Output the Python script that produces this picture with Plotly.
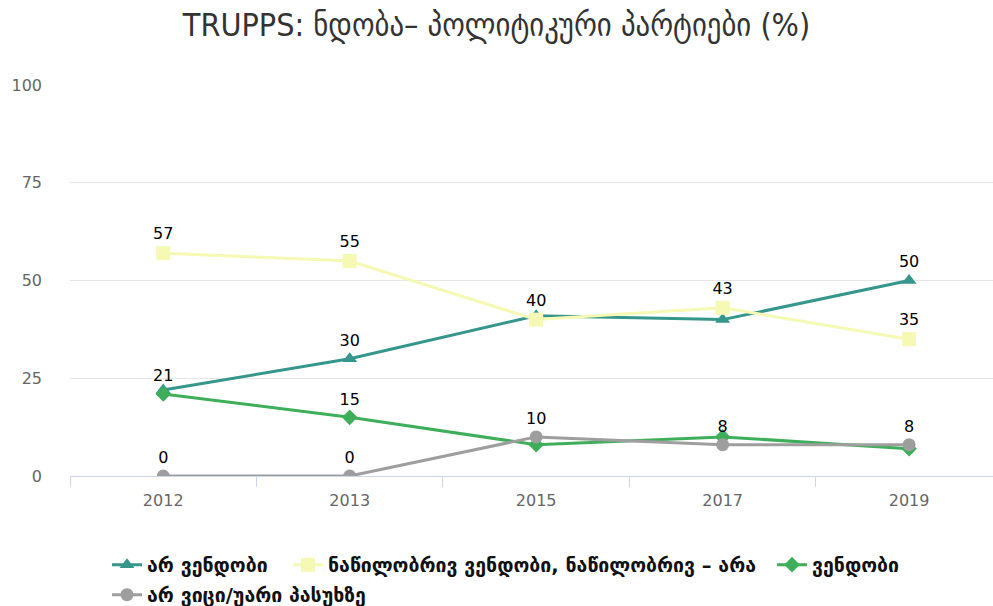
import plotly.graph_objects as go

years = ["2012", "2013", "2015", "2017", "2019"]
names = ["არ ვენდობი", "ნაწილობრივ ვენდობი, ნაწილობრივ – არა", "ვენდობი", "არ ვიცი/უარი პასუხზე"]
no_trust = [22, 30, 41, 40, 50]
partly = [57, 55, 40, 43, 35]
trust = [21, 15, 8, 10, 7]
dont_know = [0, 0, 10, 8, 8]
# which data labels are visible (others hidden because of overlap)
show_no_trust = [False, True, False, False, True]
show_partly = [True, True, True, True, True]
show_trust = [True, True, False, False, False]
show_dont_know = [True, True, True, True, True]

colors = ["#35968c", "#f5f9b3", "#3fae5a", "#9e9e9e"]
symbols = ["triangle-up", "square", "diamond", "circle"]
sizes = [13, 14, 12, 13]
series = [no_trust, partly, trust, dont_know]
shows = [show_no_trust, show_partly, show_trust, show_dont_know]
legends = ["legend", "legend2", "legend3", "legend4"]

fig = go.Figure()
for i in range(4):
    fig.add_trace(go.Scatter(
        x=years, y=series[i], name=names[i], mode="lines+markers+text",
        line=dict(color=colors[i], width=3),
        marker=dict(symbol=symbols[i], size=sizes[i], color=colors[i]),
        text=[str(v) if s else "" for v, s in zip(series[i], shows[i])],
        textposition="top center",
        textfont=dict(family="DejaVu Sans", size=16, color="#000"),
        legend=legends[i],
    ))

W, Hh = 993.0, 606.0
def cy(p):
    return 1 - p / Hh
def cx(p):
    return p / W

leg_common = dict(orientation="h", yanchor="middle", xanchor="left",
                  xref="container", yref="container",
                  font=dict(family="DejaVu Sans", size=19.5, color="#111", weight="bold"),
                  bgcolor="rgba(0,0,0,0)", itemwidth=30, borderwidth=0)
fig.update_layout(
    width=993, height=606,
    margin=dict(l=70, r=0, t=85, b=130),
    paper_bgcolor="white", plot_bgcolor="white",
    title=dict(text="TRUPPS: ნდობა– პოლიტიკური პარტიები (%)", x=0.5, xref="container",
               xanchor="center", y=1 - 25 / 606, yanchor="middle",
               font=dict(family="DejaVu Sans Condensed, DejaVu Sans", size=32, color="#333")),
    xaxis=dict(type="category", range=[-0.5, 4.45], tickson="boundaries",
               ticks="outside", ticklen=10, tickcolor="#ccd6eb",
               showline=True, linecolor="#ccd6eb", linewidth=1, showgrid=False,
               ticklabelstandoff=10,
               tickfont=dict(family="DejaVu Sans", size=16, color="#666"), fixedrange=True),
    yaxis=dict(range=[0, 100], tickvals=[0, 25, 50, 75, 100], showgrid=True,
               gridcolor="#e6e6e6", gridwidth=1, zeroline=False, showline=False,
               ticklabelstandoff=27, fixedrange=True,
               tickfont=dict(family="DejaVu Sans", size=16, color="#666")),
    legend=dict(x=cx(107), y=cy(565), **leg_common),
    legend2=dict(x=cx(288), y=cy(565), **leg_common),
    legend3=dict(x=cx(772), y=cy(565), **leg_common),
    legend4=dict(x=cx(107), y=cy(595), **leg_common),
    showlegend=True,
)
fig.write_html("out.html", config={"displayModeBar": False},
               post_script="document.body.style.margin='0';")
